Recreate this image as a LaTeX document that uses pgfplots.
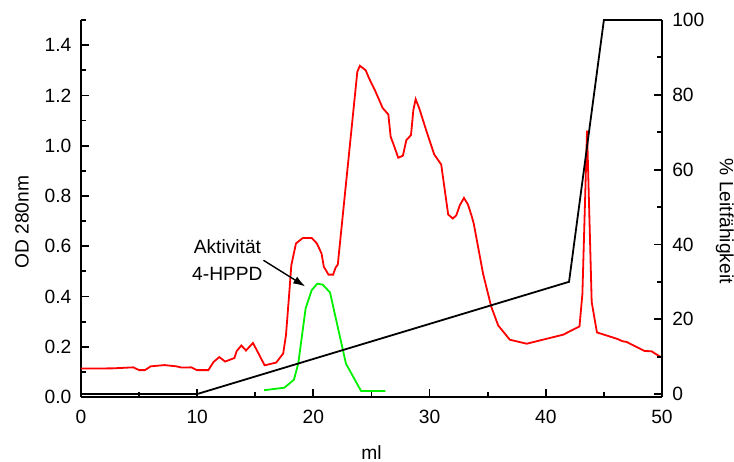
\documentclass[border=0pt]{standalone}
\usepackage{pgfplots}
\pgfplotsset{compat=1.18}
\usepackage{fontspec}
\setmainfont{Liberation Sans}
\usetikzlibrary{arrows.meta}

\definecolor{odred}{RGB}{255,0,0}
\definecolor{actgreen}{RGB}{0,240,0}

\begin{document}
\begin{tikzpicture}[font=\fontsize{9.6}{11.5}\selectfont]
\path[use as bounding box] (-40.5pt,-32pt) rectangle (326.5pt,198.5pt);
\pgfplotsset{
  every axis/.append style={
    width=290.5pt, height=188.5pt, scale only axis,
    xmin=0, xmax=50,
    clip=false,
    tick align=inside,
    major tick length=4pt, minor tick length=2.5pt,
    every tick/.style={black, line width=0.9pt},
    axis line style={line width=0.9pt},
    /pgf/number format/assume math mode=true,
    font=\fontsize{9.6}{11.5}\selectfont,
  }
}
\begin{axis}[
  at={(0,0)}, anchor=south west,
  axis x line*=bottom, axis y line*=left,
  ymin=0, ymax=1.5,
  xtick={0,10,20,30,40,50}, minor xtick={5,15,25,35,45},
  ytick={0,0.2,0.4,0.6,0.8,1.0,1.2,1.4},
  minor ytick={0.1,0.3,0.5,0.7,0.9,1.1,1.3,1.5},
  y tick label style={xshift=-1.3pt, /pgf/number format/.cd, fixed, fixed zerofill, precision=1},
  x tick label style={yshift=-2.8pt},
  xlabel={ml},
  xlabel style={at={(axis description cs:0.5,-0.1485)}, anchor=center},
  ylabel={OD 280nm},
  ylabel style={at={(axis description cs:-0.1016,0.464)}, anchor=center},
]
\addplot[odred, line width=0.9pt] coordinates {
(0,0.113)(2.75,0.114)(4.5,0.118)(5.0,0.107)(5.5,0.107)(6.0,0.122)(7.2,0.127)
(8.2,0.122)(8.67,0.117)(9.5,0.118)(9.96,0.107)(10.96,0.107)(11.4,0.139)
(11.9,0.159)(12.4,0.141)(13.2,0.155)(13.4,0.183)(13.8,0.205)(14.2,0.185)
(14.8,0.215)(15.2,0.18)(15.5,0.153)(15.8,0.126)(16.8,0.137)(17.4,0.173)
(17.64,0.246)(17.93,0.418)(18.1,0.524)(18.5,0.611)(19.1,0.633)(19.85,0.633)
(20.3,0.611)(20.7,0.571)(20.9,0.518)(21.3,0.487)(21.7,0.487)(21.9,0.514)
(22.1,0.527)(23.78,1.294)(24.0,1.318)(24.5,1.30)(24.8,1.267)(25.3,1.22)
(25.96,1.15)(26.45,1.124)(26.65,1.035)(26.9,1.005)(27.3,0.952)(27.7,0.960)
(28.0,1.022)(28.4,1.042)(28.6,1.141)(28.8,1.185)(29.1,1.150)(29.75,1.055)
(30.4,0.965)(31.0,0.925)(31.6,0.726)(32.0,0.710)(32.3,0.723)(32.6,0.763)
(32.96,0.792)(33.3,0.766)(33.6,0.723)(33.8,0.69)(34.6,0.491)(35.3,0.36)
(35.9,0.285)(36.9,0.228)(38.36,0.212)(40.1,0.232)(41.5,0.248)(42.9,0.281)
(43.15,0.41)(43.55,1.06)(43.95,0.378)(44.4,0.257)(46.1,0.232)(46.6,0.222)
(46.96,0.219)(48.5,0.183)(49.1,0.182)(49.5,0.17)(49.8,0.162)(50,0.158)
};
\addplot[actgreen, line width=0.9pt] coordinates {
(15.75,0.027)(17.5,0.037)(18.33,0.069)(18.7,0.134)(19.33,0.352)(19.85,0.425)
(20.34,0.451)(20.8,0.447)(21.43,0.416)(22.8,0.133)(24.1,0.024)(26.2,0.024)
};
\draw[-{Latex[length=6pt,width=4pt]}, line width=0.7pt] (axis cs:15.7,0.544) -- (axis cs:19.3,0.44);
\node[anchor=base] at (axis cs:12.6,0.571) {Aktivität};
\node[anchor=base] at (axis cs:12.6,0.464) {4-HPPD};
\end{axis}
\begin{axis}[
  at={(0,0)}, anchor=south west,
  axis x line=none, axis y line*=right,
  ymin=-0.8, ymax=100,
  ytick={0,20,40,60,80,100}, minor ytick={10,30,50,70,90},
  y tick label style={xshift=1.6pt},
  ylabel={\% Leitfähigkeit},
  ylabel style={at={(axis description cs:1.108,0.466)}, anchor=center, rotate=180},
]
\addplot[black, line width=0.9pt] coordinates {(0,0)(10,0)(42,30)(45,100)(50,100)};
\end{axis}
\end{tikzpicture}
\end{document}
